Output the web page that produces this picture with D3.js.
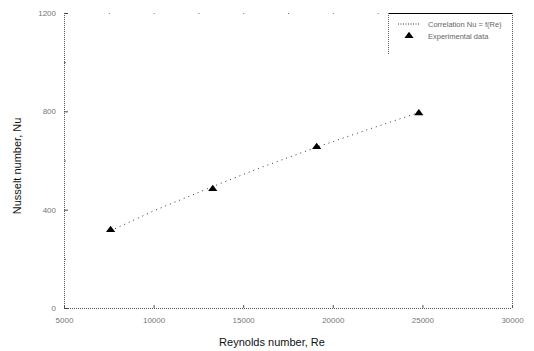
<!DOCTYPE html>
<html>
<head>
<meta charset="utf-8">
<script src="https://cdn.jsdelivr.net/npm/d3@7"></script>
<style>
  body { margin: 0; background: #fff; }
  text { font-family: Arial, "Liberation Sans", sans-serif; }
</style>
</head>
<body>
<svg id="chart" width="534" height="351"></svg>
<script>
// data
let reynolds = [7600, 13300, 19100, 24800]
let nuExp = [318, 484, 655, 793]
let corrRe = [7600, 10000, 13300, 16000, 19100, 22000, 24800]
let nuCorr = [314, 395, 494, 572, 654, 727, 795]
let xTicks = [5000, 10000, 15000, 20000, 25000, 30000]
let yTicks = [0, 400, 800, 1200]
let legendLabels = ["Correlation Nu = f(Re)", "Experimental data"]

let svg = d3.select("#chart")
let m = { left: 64, right: 22, top: 13, bottom: 43 }
let w = 534 - m.left - m.right
let h = 351 - m.top - m.bottom

let x = d3.scaleLinear().domain([5000, 30000]).range([m.left, m.left + w])
let y = d3.scaleLinear().domain([0, 1200]).range([m.top + h, m.top])

let frame = svg.append("g").attr("stroke", "#555").attr("stroke-width", 1)
// left, bottom, right drawn dotted like the reference
frame.append("line").attr("x1", m.left + 0.5).attr("x2", m.left + 0.5)
    .attr("y1", m.top).attr("y2", m.top + h).attr("stroke-dasharray", "1,1")
frame.append("line").attr("x1", m.left).attr("x2", m.left + w)
    .attr("y1", m.top + h + 0.5).attr("y2", m.top + h + 0.5).attr("stroke-dasharray", "1,1")
frame.append("line").attr("x1", m.left + w + 0.5).attr("x2", m.left + w + 0.5)
    .attr("y1", m.top).attr("y2", m.top + h).attr("stroke-dasharray", "1,1")

// bottom axis
let xAxis = d3.axisBottom(x).tickValues(xTicks).tickSize(-3).tickPadding(9).tickFormat(d3.format("d"))
let gx = svg.append("g").attr("transform", `translate(0,${m.top + h})`).call(xAxis)
gx.select(".domain").remove()
gx.selectAll("line").attr("stroke", "#555")
gx.selectAll("text").attr("font-size", 8).attr("fill", "#777")

// top ticks only (top border barely visible)
let gxt = svg.append("g").attr("transform", `translate(0,${m.top})`)
    .call(d3.axisTop(x).tickValues(d3.range(5000, 30001, 2500)).tickSize(-1).tickFormat(""))
gxt.select(".domain").remove()
gxt.selectAll("line").attr("stroke", "#777")

// left axis
let yAxis = d3.axisLeft(y).tickValues(yTicks).tickSize(-4).tickPadding(8).tickFormat(d3.format("d"))
let gy = svg.append("g").attr("transform", `translate(${m.left},0)`).call(yAxis)
gy.select(".domain").remove()
gy.selectAll("line").attr("stroke", "#444")
gy.selectAll("text").attr("font-size", 8).attr("fill", "#777")
let gym = svg.append("g").attr("transform", `translate(${m.left},0)`)
    .call(d3.axisLeft(y).tickValues([200, 600, 1000]).tickSize(-2).tickFormat(""))
gym.select(".domain").remove()
gym.selectAll("line").attr("stroke", "#666")

// correlation line
let line = d3.line().x((d, i) => x(corrRe[i])).y(d => y(d))
svg.append("path").datum(nuCorr)
    .attr("d", line)
    .attr("fill", "none")
    .attr("stroke", "#333")
    .attr("stroke-width", 1)
    .attr("stroke-dasharray", "1,4")

// experimental points
let tri = d3.symbol().type(d3.symbolTriangle).size(28)
svg.append("g").selectAll("path")
    .data(nuExp)
    .enter()
    .append("path")
    .attr("d", tri)
    .attr("transform", (d, i) => `translate(${x(reynolds[i])},${y(d)}) scale(1.15,0.9)`)
    .attr("fill", "#000")

// legend
let lg = svg.append("g")
let lx = 388
lg.append("line").attr("x1", lx).attr("x2", m.left + w).attr("y1", m.top + 0.5).attr("y2", m.top + 0.5)
    .attr("stroke", "#000").attr("stroke-width", 1.2)
lg.append("line").attr("x1", lx + 0.5).attr("x2", lx + 0.5).attr("y1", m.top).attr("y2", 55)
    .attr("stroke", "#666").attr("stroke-dasharray", "1,1")
lg.append("line").attr("x1", 398).attr("x2", 420).attr("y1", 24).attr("y2", 24)
    .attr("stroke", "#333").attr("stroke-dasharray", "1,1.5")
lg.append("path").attr("d", tri).attr("transform", "translate(409,36) scale(1.15,0.9)").attr("fill", "#000")
lg.selectAll("text.lab")
    .data(legendLabels)
    .enter()
    .append("text")
    .attr("class", "lab")
    .attr("x", 428)
    .attr("y", (d, i) => 27 + i * 12)
    .attr("font-size", 7.5)
    .attr("fill", "#666")
    .text(d => d)

// axis titles
svg.append("text")
    .attr("x", x(17500) - 16)
    .attr("y", 346)
    .attr("text-anchor", "middle")
    .attr("font-size", 11)
    .attr("fill", "#111")
    .text("Reynolds number, Re")
svg.append("text")
    .attr("transform", "translate(21,166) rotate(-90)")
    .attr("text-anchor", "middle")
    .attr("font-size", 11)
    .attr("fill", "#111")
    .text("Nusselt number, Nu")
</script>
</body>
</html>
